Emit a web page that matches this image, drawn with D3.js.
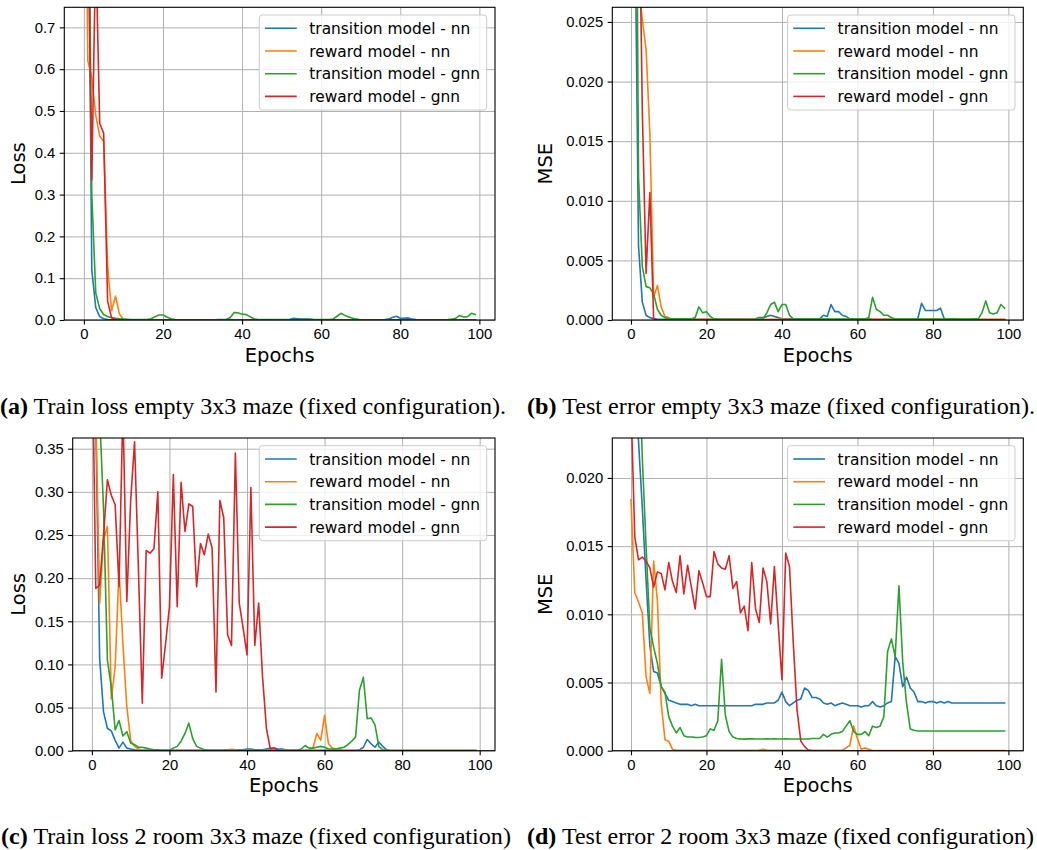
<!DOCTYPE html>
<html>
<head>
<meta charset="utf-8">
<script src="https://cdn.jsdelivr.net/npm/d3@7"></script>
<style>
body { margin: 0; background: #fff; }
svg { display: block; font-family: "DejaVu Sans", sans-serif; }
.caption { font-family: "Liberation Serif", serif; font-size: 23px; fill: #000; }
.grid line { stroke: #b0b0b0; stroke-width: 1; }
.grid path { display: none; }
.axis path { display: none; }
.axis line { stroke: #000; stroke-width: 1.1; }
.axis text { font-size: 14.8px; fill: #000; }
</style>
</head>
<body>
<svg width="1037" height="850"></svg>
<script>
"use strict";

// x values: training epochs 0..99
var epochs = d3.range(100);

var seriesNames = ["transition model - nn", "reward model - nn", "transition model - gnn", "reward model - gnn"];
var seriesColours = ["#1f77b4", "#ff7f0e", "#2ca02c", "#d62728"];

// (a) train loss, empty maze
var trainEmpty_transNN = [
  2.0, 1.2, 0.12, 0.03, 0.008, 0.003, 0.001, 0.0005, 0.0003, 0.0003,
  0.0002, 0.0002, 0.0002, 0.0002, 0.0002, 0.0002, 0.0002, 0.0002, 0.0002, 0.0002,
  0.0002, 0.0002, 0.0002, 0.0002, 0.0002, 0.0002, 0.0002, 0.0002, 0.0002, 0.0002,
  0.0002, 0.0002, 0.0003, 0.0005, 0.001, 0.001, 0.0012, 0.001, 0.0006, 0.0004,
  0.0003, 0.0003, 0.0003, 0.0003, 0.0003, 0.0003, 0.0003, 0.0003, 0.0003, 0.0003,
  0.0003, 0.0005, 0.001, 0.004, 0.003, 0.002, 0.002, 0.002, 0.001, 0.0005,
  0.0003, 0.0003, 0.0003, 0.0003, 0.0003, 0.0003, 0.0003, 0.0003, 0.0003, 0.0003,
  0.0003, 0.0003, 0.0003, 0.0003, 0.0004, 0.0006, 0.001, 0.002, 0.006, 0.009,
  0.004, 0.004, 0.005, 0.002, 0.001, 0.0005, 0.0003, 0.0003, 0.0003, 0.0003,
  0.0003, 0.0003, 0.0003, 0.0003, 0.0003, 0.0003, 0.0003, 0.0003, 0.0003, 0.0003];
var trainEmpty_rewardNN = [
  1.5, 0.62, 0.58, 0.49, 0.44, 0.427, 0.13, 0.022, 0.057, 0.014,
  0.002, 0.001, 0.0005, 0.0003, 0.0002, 0.0002, 0.0002, 0.0002, 0.0002, 0.0002,
  0.0001, 0.0001, 0.0001, 0.0001, 0.0001, 0.0001, 0.0001, 0.0001, 0.0001, 0.0001,
  0.0001, 0.0001, 0.0001, 0.0001, 0.0001, 0.0001, 0.0001, 0.0001, 0.0001, 0.0001,
  0.0001, 0.0001, 0.0001, 0.0001, 0.0001, 0.0001, 0.0001, 0.0001, 0.0001, 0.0001,
  0.0001, 0.0001, 0.0001, 0.0001, 0.0001, 0.0001, 0.0001, 0.0001, 0.0001, 0.0001,
  0.0001, 0.0001, 0.0001, 0.0001, 0.0001, 0.0001, 0.0001, 0.0001, 0.0001, 0.0001,
  0.0001, 0.0001, 0.0001, 0.0001, 0.0001, 0.0001, 0.0001, 0.0001, 0.0001, 0.0001,
  0.0001, 0.0001, 0.0001, 0.0001, 0.0001, 0.0001, 0.0001, 0.0001, 0.0001, 0.0001,
  0.0001, 0.0001, 0.0001, 0.0001, 0.0001, 0.0001, 0.0001, 0.0001, 0.0001, 0.0001];
var trainEmpty_transGNN = [
  2.5, 1.3, 0.30, 0.065, 0.027, 0.013, 0.008, 0.006, 0.004, 0.003,
  0.002, 0.0015, 0.001, 0.001, 0.001, 0.001, 0.001, 0.003, 0.008, 0.012,
  0.012, 0.007, 0.003, 0.001, 0.0005, 0.0005, 0.0005, 0.0005, 0.0005, 0.0005,
  0.0005, 0.0005, 0.0005, 0.0005, 0.0005, 0.0005, 0.001, 0.006, 0.018, 0.017,
  0.014, 0.013, 0.008, 0.003, 0.001, 0.0008, 0.0008, 0.0008, 0.0008, 0.0008,
  0.0008, 0.0008, 0.0008, 0.0008, 0.0008, 0.0008, 0.0008, 0.0008, 0.0008, 0.0008,
  0.0008, 0.0008, 0.001, 0.002, 0.009, 0.016, 0.011, 0.007, 0.004, 0.002,
  0.0005, 0.0005, 0.0005, 0.0005, 0.0005, 0.0005, 0.0005, 0.0005, 0.0005, 0.0005,
  0.0005, 0.0005, 0.0005, 0.0005, 0.0005, 0.0005, 0.0005, 0.0005, 0.0005, 0.0005,
  0.0005, 0.0005, 0.001, 0.002, 0.004, 0.011, 0.007, 0.008, 0.016, 0.013];
var trainEmpty_rewardGNN = [
  2.2, 1.0, 0.335, 0.9, 0.47, 0.447, 0.045, 0.005, 0.001, 0.0003,
  0, 0, 0, 0, 0, 0, 0, 0, 0, 0,
  0, 0, 0, 0, 0, 0, 0, 0, 0, 0,
  0, 0, 0, 0, 0, 0, 0, 0, 0, 0,
  0, 0, 0, 0, 0, 0, 0, 0, 0, 0,
  0, 0, 0, 0, 0, 0, 0, 0, 0, 0,
  0, 0, 0, 0, 0, 0, 0, 0, 0, 0,
  0, 0, 0, 0, 0, 0, 0, 0, 0, 0,
  0, 0, 0, 0, 0, 0, 0, 0, 0, 0,
  0, 0, 0, 0, 0, 0, 0, 0, 0, 0];

// (b) test error, empty maze
var testEmpty_transNN = [
  0.15, 0.036, 0.0062, 0.0015, 0.0004, 0.0002, 0.0001, 0.00005, 0.00005, 0.00005,
  0.00005, 0.00005, 0.00005, 0.00005, 0.00005, 0.00005, 0.00005, 0.00005, 0.00005, 0.00005,
  0.00005, 0.00005, 0.00005, 0.00005, 0.00005, 0.00005, 0.00005, 0.00005, 0.00005, 0.00005,
  0.00005, 0.00005, 0.00005, 0.0001, 0.0002, 0.0002, 0.0003, 0.0004, 0.0003, 0.0002,
  0.0001, 0.0001, 0.0001, 0.0001, 0.0001, 0.0001, 0.0001, 0.0001, 0.0001, 0.0001,
  0.0001, 0.0004, 0.0003, 0.0013, 0.0007, 0.0007, 0.0004, 0.0003, 0.0001, 0.0001,
  0.0001, 0.0001, 0.0001, 0.0001, 0.00005, 0.00005, 0.00005, 0.00005, 0.00005, 0.00005,
  0.00005, 0.00005, 0.00005, 0.00005, 0.00005, 0.00005, 0.0001, 0.0014, 0.0008, 0.0008,
  0.0008, 0.0008, 0.001, 0.0001, 0.0001, 0.0001, 0.0001, 0.00003, 0.00003, 0.00003,
  0.00003, 0.00003, 0.00003, 0.00003, 0.00003, 0.00003, 0.00003, 0.00003, 0.00003, 0.00003];
var testEmpty_rewardNN = [
  0.2, 0.06, 0.028, 0.0252, 0.0227, 0.0157, 0.0019, 0.0029, 0.0011, 0.0003,
  0.0002, 0.00005, 0.00005, 0.00005, 0.00005, 0.00005, 0.00005, 0.00005, 0.00005, 0.00005,
  0.00005, 0.00005, 0.00005, 0.00005, 0.00005, 0.00005, 0.00005, 0.00005, 0.00005, 0.00005,
  0.00005, 0.00005, 0.00005, 0.00005, 0.00005, 0.00005, 0.00005, 0.00005, 0.00005, 0.00005,
  0.00005, 0.00005, 0.00005, 0.00005, 0.00005, 0.00005, 0.00005, 0.00005, 0.00005, 0.00005,
  0.00005, 0.00005, 0.00005, 0.00005, 0.00005, 0.00005, 0.00005, 0.00005, 0.00005, 0.00005,
  0.00005, 0.00005, 0.00005, 0.00005, 0.00005, 0.00005, 0.00005, 0.00005, 0.00005, 0.00005,
  0.00005, 0.00005, 0.00005, 0.00005, 0.00005, 0.00005, 0.00005, 0.00005, 0.00005, 0.00005,
  0.00005, 0.00005, 0.00005, 0.00005, 0.00005, 0.00005, 0.00005, 0.00005, 0.00005, 0.00005,
  0.00005, 0.00005, 0.00005, 0.00005, 0.00005, 0.00005, 0.00005, 0.00005, 0.00005, 0.00005];
var testEmpty_transGNN = [
  0.2, 0.06, 0.012, 0.0045, 0.0028, 0.0027, 0.0022, 0.0009, 0.0004, 0.0002,
  0.0001, 0.0001, 0.0001, 0.0001, 0.0001, 0.0001, 0.0001, 0.0002, 0.0011, 0.0006,
  0.0007, 0.0003, 0.0001, 0.00005, 0.00005, 0.00005, 0.00005, 0.00005, 0.00005, 0.00005,
  0.00005, 0.00005, 0.00005, 0.00005, 0.00005, 0.0001, 0.0006, 0.0013, 0.0015, 0.0007,
  0.0013, 0.0013, 0.0004, 0.0001, 0.00008, 0.00008, 0.00008, 0.00008, 0.00008, 0.00008,
  0.00008, 0.00008, 0.00008, 0.00008, 0.00008, 0.00008, 0.00008, 0.00008, 0.00008, 0.00008,
  0.00008, 0.00008, 0.00008, 0.0002, 0.0019, 0.0009, 0.0007, 0.0004, 0.0004, 0.0002,
  0.00008, 0.00008, 0.00008, 0.00008, 0.00008, 0.00008, 0.00008, 0.00008, 0.00008, 0.00008,
  0.00008, 0.00008, 0.00008, 0.00008, 0.00008, 0.00008, 0.00008, 0.00008, 0.00008, 0.00008,
  0.00008, 0.0001, 0.0001, 0.0006, 0.0016, 0.0006, 0.0005, 0.0006, 0.0013, 0.001];
var testEmpty_rewardGNN = [
  0.2, 0.08, 0.04, 0.0176, 0.0039, 0.0107, 0.0001, 0.00002, 0.00002, 0.00002,
  0.00002, 0.00002, 0.00002, 0.00002, 0.00002, 0.00002, 0.00002, 0.00002, 0.00002, 0.00002,
  0.00002, 0.00002, 0.00002, 0.00002, 0.00002, 0.00002, 0.00002, 0.00002, 0.00002, 0.00002,
  0.00002, 0.00002, 0.00002, 0.00002, 0.00002, 0.00002, 0.00002, 0.00002, 0.00002, 0.00002,
  0.00002, 0.00002, 0.00002, 0.00002, 0.00002, 0.00002, 0.00002, 0.00002, 0.00002, 0.00002,
  0.00002, 0.00002, 0.00002, 0.00002, 0.00002, 0.00002, 0.00002, 0.00002, 0.00002, 0.00002,
  0.00002, 0.00002, 0.00002, 0.00002, 0.00002, 0.00002, 0.00002, 0.00002, 0.00002, 0.00002,
  0.00002, 0.00002, 0.00002, 0.00002, 0.00002, 0.00002, 0.00002, 0.00002, 0.00002, 0.00002,
  0.00002, 0.00002, 0.00002, 0.00002, 0.00002, 0.00002, 0.00002, 0.00002, 0.00002, 0.00002,
  0.00002, 0.00002, 0.00002, 0.00002, 0.00002, 0.00002, 0.00002, 0.00002, 0.00002, 0.00002];

// (c) train loss, 2 room maze
var trainRoom_transNN = [
  0.9, 0.38, 0.107, 0.045, 0.026, 0.023, 0.012, 0.003, 0.01, 0.003,
  0.002, 0.001, 0.0008, 0.0005, 0.0005, 0.0005, 0.0005, 0.0005, 0.0005, 0.0005,
  0.0005, 0.0005, 0.0005, 0.0005, 0.0005, 0.0005, 0.0005, 0.0005, 0.0005, 0.0005,
  0.0005, 0.0005, 0.0005, 0.0005, 0.0005, 0.001, 0.001, 0.001, 0.001, 0.001,
  0.002, 0.002, 0.001, 0.001, 0.001, 0.002, 0.003, 0.003, 0.002, 0.002,
  0.001, 0.0005, 0.0005, 0.0005, 0.0005, 0.0005, 0.0005, 0.0005, 0.0005, 0.0005,
  0.0005, 0.0005, 0.0005, 0.0005, 0.0005, 0.0005, 0.0005, 0.0005, 0.0005, 0.001,
  0.004, 0.013, 0.008, 0.004, 0.01, 0.005, 0.001, 0.0002, 0.0002, 0.0002,
  0.0002, 0.0002, 0.0002, 0.0002, 0.0002, 0.0002, 0.0002, 0.0002, 0.0002, 0.0002,
  0.0002, 0.0002, 0.0002, 0.0002, 0.0002, 0.0002, 0.0002, 0.0002, 0.0002, 0.0002];
var trainRoom_rewardNN = [
  0.8, 0.4, 0.171, 0.244, 0.26, 0.06, 0.097, 0.21, 0.124, 0.051,
  0.012, 0.005, 0.002, 0.001, 0.0005, 0.0005, 0.0005, 0.0005, 0.0005, 0.0005,
  0.0005, 0.0005, 0.0005, 0.0005, 0.0005, 0.0005, 0.0005, 0.0005, 0.0005, 0.0005,
  0.0005, 0.0005, 0.0005, 0.0005, 0.0005, 0.001, 0.0015, 0.001, 0.0005, 0.0005,
  0.0005, 0.0005, 0.0005, 0.0005, 0.0005, 0.0005, 0.0005, 0.0005, 0.0005, 0.0005,
  0.0005, 0.0005, 0.0005, 0.0005, 0.0005, 0.0005, 0.001, 0.003, 0.02, 0.012,
  0.041, 0.008, 0.003, 0.002, 0.001, 0.0003, 0.0003, 0.0003, 0.0003, 0.0003,
  0.0003, 0.0003, 0.0003, 0.0003, 0.0003, 0.0003, 0.0003, 0.0003, 0.0003, 0.0003,
  0.0003, 0.0003, 0.0003, 0.0003, 0.0003, 0.0003, 0.0003, 0.0003, 0.0003, 0.0003,
  0.0003, 0.0003, 0.0003, 0.0003, 0.0003, 0.0003, 0.0003, 0.0003, 0.0003, 0.0003];
var trainRoom_transGNN = [
  1.0, 0.6, 0.39, 0.28, 0.105, 0.074, 0.024, 0.035, 0.017, 0.022,
  0.009, 0.007, 0.004, 0.004, 0.003, 0.002, 0.001, 0.001, 0.0005, 0.0005,
  0.0005, 0.003, 0.005, 0.011, 0.02, 0.032, 0.014, 0.005, 0.003, 0.001,
  0.0005, 0.0005, 0.0005, 0.0005, 0.0005, 0.0005, 0.0005, 0.0005, 0.0005, 0.0005,
  0.0005, 0.0005, 0.0005, 0.0005, 0.0005, 0.0005, 0.0005, 0.0005, 0.0005, 0.0005,
  0.0005, 0.0005, 0.0005, 0.0005, 0.002, 0.006, 0.003, 0.003, 0.004, 0.005,
  0.004, 0.002, 0.002, 0.002, 0.003, 0.004, 0.007, 0.011, 0.016, 0.07,
  0.085, 0.037, 0.038, 0.03, 0.005, 0.001, 0.0002, 0.0002, 0.0002, 0.0002,
  0.0002, 0.0002, 0.0002, 0.0002, 0.0002, 0.0002, 0.0002, 0.0002, 0.0002, 0.0002,
  0.0002, 0.0002, 0.0002, 0.0002, 0.0002, 0.0002, 0.0002, 0.0002, 0.0002, 0.0002];
var trainRoom_rewardGNN = [
  0.5, 0.188, 0.192, 0.25, 0.314, 0.296, 0.285, 0.19, 0.40, 0.173,
  0.29, 0.358, 0.21, 0.055, 0.232, 0.229, 0.234, 0.30, 0.084, 0.124,
  0.167, 0.32, 0.167, 0.311, 0.254, 0.286, 0.283, 0.19, 0.24, 0.227,
  0.251, 0.235, 0.068, 0.29, 0.27, 0.134, 0.122, 0.345, 0.171, 0.142,
  0.111, 0.305, 0.122, 0.171, 0.086, 0.026, 0.002, 0.003, 0.0005, 0,
  0, 0, 0, 0, 0, 0, 0, 0, 0, 0,
  0, 0, 0, 0, 0, 0, 0, 0, 0, 0,
  0, 0, 0, 0, 0, 0, 0, 0, 0, 0,
  0, 0, 0, 0, 0, 0, 0, 0, 0, 0,
  0, 0, 0, 0, 0, 0, 0, 0, 0, 0];

// (d) test error, 2 room maze
var testRoom_transNN = [
  0.035, 0.027, 0.0227, 0.0178, 0.0125, 0.0077, 0.0058, 0.0057, 0.0047, 0.0042,
  0.0037, 0.0036, 0.0035, 0.0034, 0.0034, 0.0034, 0.0033, 0.0034, 0.0033, 0.0033,
  0.0033, 0.0033, 0.0033, 0.0033, 0.0033, 0.0033, 0.0033, 0.0033, 0.0033, 0.0033,
  0.0033, 0.0033, 0.0033, 0.0034, 0.0034, 0.0034, 0.0035, 0.0035, 0.0035, 0.0037,
  0.0043, 0.0036, 0.0033, 0.0035, 0.0037, 0.0038, 0.0046, 0.0044, 0.0039, 0.0039,
  0.0038, 0.0035, 0.0034, 0.0035, 0.0033, 0.0034, 0.0035, 0.0034, 0.0033, 0.0033,
  0.0033, 0.0032, 0.0033, 0.0033, 0.0036, 0.0033, 0.0032, 0.0033, 0.0035, 0.0036,
  0.0069, 0.0064, 0.0047, 0.0054, 0.0046, 0.0043, 0.0036, 0.0036, 0.0035, 0.0036,
  0.0036, 0.0035, 0.0036, 0.0035, 0.0036, 0.0035, 0.0035, 0.0035, 0.0035, 0.0035,
  0.0035, 0.0035, 0.0035, 0.0035, 0.0035, 0.0035, 0.0035, 0.0035, 0.0035, 0.0035];
var testRoom_rewardNN = [
  0.0184, 0.0116, 0.0109, 0.0101, 0.0054, 0.0042, 0.0139, 0.011, 0.0035, 0.0008,
  0.0007, 0.0001, 0.00003, 0.00003, 0.00003, 0.00003, 0.00003, 0.00003, 0.00003, 0.00003,
  0.00003, 0.00003, 0.00003, 0.00003, 0.00003, 0.00003, 0.00003, 0.00003, 0.00003, 0.00003,
  0.00003, 0.00003, 0.00003, 0.00003, 0.00005, 0.0001, 0.00005, 0.00003, 0.00003, 0.00003,
  0.00003, 0.00003, 0.00003, 0.00003, 0.00003, 0.00003, 0.00003, 0.00003, 0.00003, 0.00003,
  0.00003, 0.00003, 0.00003, 0.00003, 0.00003, 0.00003, 0.00003, 0.0002, 0.0004, 0.0018,
  0.0009, 0.0001, 0.0002, 0.0001, 0.00002, 0.00002, 0.00002, 0.00002, 0.00002, 0.00002,
  0.00002, 0.00002, 0.00002, 0.00002, 0.00002, 0.00002, 0.00002, 0.00002, 0.00002, 0.00002,
  0.00002, 0.00002, 0.00002, 0.00002, 0.00002, 0.00002, 0.00002, 0.00002, 0.00002, 0.00002,
  0.00002, 0.00002, 0.00002, 0.00002, 0.00002, 0.00002, 0.00002, 0.00002, 0.00002, 0.00002];
var testRoom_transGNN = [
  0.08, 0.05, 0.03, 0.0215, 0.015, 0.009, 0.0076, 0.0064, 0.0047, 0.0043,
  0.0025, 0.0018, 0.0013, 0.0017, 0.0011, 0.001, 0.001, 0.00098, 0.00097, 0.001,
  0.0011, 0.0016, 0.0015, 0.0022, 0.0067, 0.0026, 0.0014, 0.001, 0.0009, 0.00087,
  0.00085, 0.00087, 0.00088, 0.00086, 0.00086, 0.00086, 0.00087, 0.00086, 0.00087, 0.00086,
  0.00086, 0.00087, 0.00086, 0.00086, 0.00086, 0.00086, 0.00086, 0.00086, 0.0009, 0.0009,
  0.0009, 0.0012, 0.001, 0.0012, 0.0013, 0.0013, 0.0014, 0.0018, 0.0022, 0.0014,
  0.0012, 0.0012, 0.0014, 0.0011, 0.0018, 0.0017, 0.0018, 0.0025, 0.0073, 0.0082,
  0.0069, 0.0121, 0.0065, 0.0035, 0.0016, 0.0015, 0.00145, 0.00145, 0.00145, 0.00145,
  0.00145, 0.00145, 0.00145, 0.00145, 0.00145, 0.00145, 0.00145, 0.00145, 0.00145, 0.00145,
  0.00145, 0.00145, 0.00145, 0.00145, 0.00145, 0.00145, 0.00145, 0.00145, 0.00145, 0.00145];
var testRoom_rewardGNN = [
  0.0256, 0.0157, 0.014, 0.0142, 0.0139, 0.0134, 0.012, 0.0131, 0.013, 0.0118,
  0.0138, 0.0124, 0.0116, 0.0143, 0.0115, 0.0136, 0.012, 0.0104, 0.0132, 0.0123,
  0.0113, 0.0113, 0.0146, 0.0137, 0.0134, 0.0133, 0.0143, 0.0119, 0.0124, 0.0101,
  0.0106, 0.0088, 0.0138, 0.0104, 0.0094, 0.0134, 0.0124, 0.0093, 0.0135, 0.0093,
  0.0052, 0.0145, 0.0135, 0.0079, 0.003, 0.0007, 0.0003, 0.00005, 0, 0,
  0, 0, 0, 0, 0, 0, 0, 0, 0, 0,
  0, 0, 0, 0, 0, 0, 0, 0, 0, 0,
  0, 0, 0, 0, 0, 0, 0, 0, 0, 0,
  0, 0, 0, 0, 0, 0, 0, 0, 0, 0,
  0, 0, 0, 0, 0, 0, 0, 0, 0, 0];

var xTicks = [0, 20, 40, 60, 80, 100];
var yTicksA = [0, 0.1, 0.2, 0.3, 0.4, 0.5, 0.6, 0.7];
var yTicksB = [0, 0.005, 0.01, 0.015, 0.02, 0.025];
var yTicksC = [0, 0.05, 0.1, 0.15, 0.2, 0.25, 0.3, 0.35];
var yTicksD = [0, 0.005, 0.01, 0.015, 0.02];

var panels = [
  {left: 64.3, right: 495, top: 7.3, bottom: 320, ymax: 0.748, ticks: yTicksA, fmt: ".1f", ylabel: "Loss",
   series: [trainEmpty_transNN, trainEmpty_rewardNN, trainEmpty_transGNN, trainEmpty_rewardGNN]},
  {left: 612.3, right: 1023.3, top: 7.3, bottom: 320, ymax: 0.02623, ticks: yTicksB, fmt: ".3f", ylabel: "MSE",
   series: [testEmpty_transNN, testEmpty_rewardNN, testEmpty_transGNN, testEmpty_rewardGNN]},
  {left: 72.7, right: 495, top: 438, bottom: 750.7, ymax: 0.3624, ticks: yTicksC, fmt: ".2f", ylabel: "Loss",
   series: [trainRoom_transNN, trainRoom_rewardNN, trainRoom_transGNN, trainRoom_rewardGNN]},
  {left: 612.3, right: 1023.3, top: 438, bottom: 750.7, ymax: 0.02293, ticks: yTicksD, fmt: ".3f", ylabel: "MSE",
   series: [testRoom_transNN, testRoom_rewardNN, testRoom_transGNN, testRoom_rewardGNN]}
];

var captions = [
  {tag: "(a)", text: " Train loss empty 3x3 maze (fixed configuration).", x: 0, y: 414, len: 506},
  {tag: "(b)", text: " Test error empty 3x3 maze (fixed configuration).", x: 527, y: 414, len: 508},
  {tag: "(c)", text: " Train loss 2 room 3x3 maze (fixed configuration)", x: 1, y: 844, len: 510},
  {tag: "(d)", text: " Test error 2 room 3x3 maze (fixed configuration)", x: 527, y: 844, len: 507}
];

var svg = d3.select("svg");
svg.append("rect").attr("width", 1037).attr("height", 850).attr("fill", "#fff");

panels.forEach(drawPanel);

function drawPanel(p, idx) {
  var w = p.right - p.left,
      h = p.bottom - p.top;
  var x = d3.scaleLinear().domain([-4.95, 103.95]).range([p.left, p.right]);
  var y = d3.scaleLinear().domain([0, p.ymax]).range([p.bottom, p.top]);
  var g = svg.append("g");

  g.append("clipPath").attr("id", "clip" + idx)
    .append("rect").attr("x", p.left).attr("y", p.top).attr("width", w).attr("height", h);

  // grid
  g.append("g").attr("class", "grid")
    .attr("transform", "translate(0," + p.bottom + ")")
    .call(d3.axisBottom(x).tickValues(xTicks).tickSize(-h).tickFormat(""));
  g.append("g").attr("class", "grid")
    .attr("transform", "translate(" + p.left + ",0)")
    .call(d3.axisLeft(y).tickValues(p.ticks).tickSize(-w).tickFormat(""));

  var line = d3.line()
    .x(function(d, i) { return x(epochs[i]); })
    .y(function(d) { return y(d); });

  g.append("g").attr("clip-path", "url(#clip" + idx + ")")
    .selectAll("path")
    .data(p.series)
    .enter().append("path")
      .attr("d", line)
      .attr("fill", "none")
      .attr("stroke", function(d, i) { return seriesColours[i]; })
      .attr("stroke-width", 1.6)
      .attr("stroke-linejoin", "round")
      .attr("stroke-linecap", "square");

  // spines
  g.append("rect")
    .attr("x", p.left).attr("y", p.top).attr("width", w).attr("height", h)
    .attr("fill", "none").attr("stroke", "#000").attr("stroke-width", 1.1);

  var xAxis = g.append("g").attr("class", "axis")
    .attr("transform", "translate(0," + p.bottom + ")")
    .call(d3.axisBottom(x).tickValues(xTicks).tickSize(4.6).tickPadding(4.2).tickFormat(d3.format("d")));
  xAxis.selectAll("text").attr("dy", "0.71em");

  g.append("g").attr("class", "axis")
    .attr("transform", "translate(" + p.left + ",0)")
    .call(d3.axisLeft(y).tickValues(p.ticks).tickSize(4.6).tickPadding(4.4).tickFormat(d3.format(p.fmt)));

  g.append("text")
    .attr("x", (p.left + p.right) / 2)
    .attr("y", p.bottom + 41.7)
    .attr("text-anchor", "middle")
    .style("font-size", "19.5px")
    .text("Epochs");

  var labelX = p.left < 300 ? 25 : 552;
  g.append("text")
    .attr("transform", "translate(" + labelX + "," + ((p.top + p.bottom) / 2) + ") rotate(-90)")
    .attr("text-anchor", "middle")
    .style("font-size", "19.5px")
    .text(p.ylabel);

  // legend
  var lw = 227.4, lh = 95;
  var legend = g.append("g")
    .attr("transform", "translate(" + (p.right - 8.3 - lw) + "," + (p.top + 7.7) + ")");
  legend.append("rect")
    .attr("width", lw).attr("height", lh).attr("rx", 3)
    .attr("fill", "#fff").attr("fill-opacity", 0.8)
    .attr("stroke", "#cccccc").attr("stroke-width", 1);
  var item = legend.selectAll("g.item")
    .data(seriesNames)
    .enter().append("g").attr("class", "item")
    .attr("transform", function(d, i) { return "translate(0," + (13.3 + i * 22.7) + ")"; });
  item.append("line")
    .attr("x1", 5.7).attr("x2", 37.4)
    .attr("stroke", function(d, i) { return seriesColours[i]; })
    .attr("stroke-width", 1.6);
  item.append("text")
    .attr("x", 50)
    .attr("dy", "0.36em")
    .style("font-size", "15.4px")
    .text(function(d) { return d; });
}

var cap = svg.selectAll("text.caption")
  .data(captions)
  .enter().append("text")
    .attr("class", "caption")
    .attr("x", function(d) { return d.x; })
    .attr("y", function(d) { return d.y; })
    .attr("textLength", function(d) { return d.len; })
    .attr("lengthAdjust", "spacingAndGlyphs");
cap.append("tspan").style("font-weight", "bold").text(function(d) { return d.tag; });
cap.append("tspan").text(function(d) { return d.text; });
</script>
</body>
</html>
